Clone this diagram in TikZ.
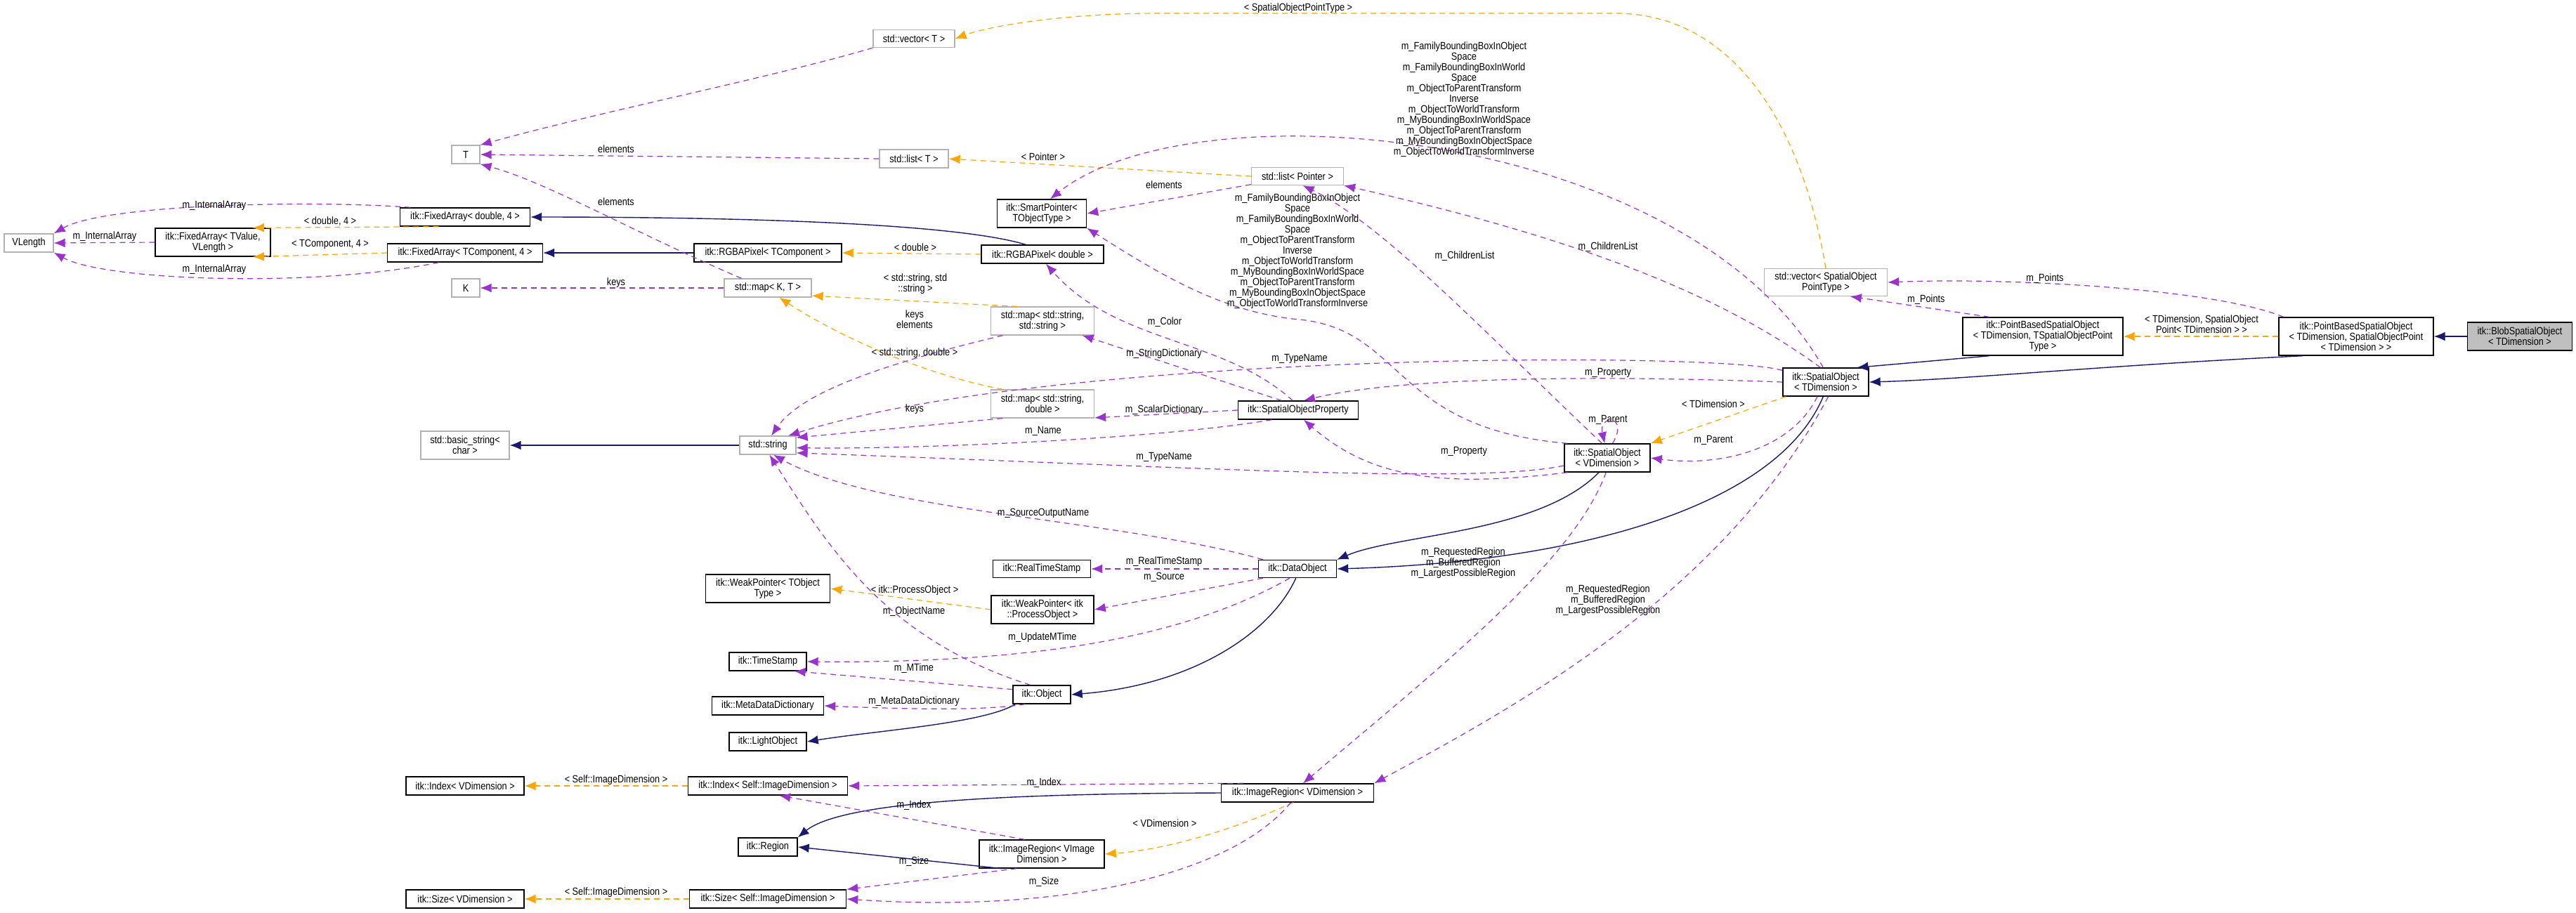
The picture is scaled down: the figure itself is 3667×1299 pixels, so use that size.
\documentclass[tikz,border=0pt]{standalone}
\usepackage{fontspec}
\setmainfont{Liberation Sans}[FakeStretch=0.86]
\usetikzlibrary{arrows.meta}
\definecolor{inhc}{HTML}{191970}
\definecolor{usec}{HTML}{9A32CD}
\definecolor{tplc}{HTML}{FFA500}
\begin{document}
\begin{tikzpicture}[x=0.25pt,y=-0.25pt,
 every node/.style={font=\fontsize{3.7}{3.75}\selectfont,align=center,inner sep=0.6pt},
 box/.style={draw=black,line width=0.35pt},
 gbox/.style={draw=black!30,line width=0.3pt},
 lbl/.style={inner sep=0pt},
 inh/.style={draw=inhc,line width=0.35pt,-{Latex[length=4pt,width=3.2pt]}},
 use/.style={draw=usec,line width=0.3pt,dash pattern=on 2pt off 1.5pt,-{Latex[length=4pt,width=3.2pt]}},
 tpl/.style={draw=tplc,line width=0.3pt,dash pattern=on 2pt off 1.5pt,-{Latex[length=4pt,width=3.2pt]}},
 w/.style={minimum width=#1*0.25pt},
 h/.style={minimum height=#1*0.25pt}]
\useasboundingbox (0,0) rectangle (3667,1299);
% nodes
\node[box,fill=black!25,w=149,h=40] (blob) at (3587,479) {itk::BlobSpatialObject\\ < TDimension >};
\node[box,w=220,h=54] (pbsop) at (3354,479) {itk::PointBasedSpatialObject\\ < TDimension, SpatialObjectPoint\\ < TDimension > >};
\node[box,w=228,h=54] (pbt) at (2908,479) {itk::PointBasedSpatialObject\\ < TDimension, TSpatialObjectPoint\\ Type >};
\node[gbox,w=175,h=39] (vecsopt) at (2599,402) {std::vector< SpatialObject\\ PointType >};
\node[box,w=122,h=40] (sot) at (2599,544) {itk::SpatialObject\\ < TDimension >};
\node[box,w=122,h=40] (sov) at (2288,652) {itk::SpatialObject\\ < VDimension >};
\node[gbox,w=116,h=25] (vect) at (1301,55) {std::vector< T >};
\node[gbox,w=40,h=26] (T) at (663,220) {T};
\node[gbox,w=98,h=26] (listT) at (1301,226) {std::list< T >};
\node[gbox,w=131,h=25] (listP) at (1847,251) {std::list< Pointer >};
\node[box,w=127,h=40] (smart) at (1483,304) {itk::SmartPointer<\\ TObjectType >};
\node[box,w=185,h=26] (fad) at (662,309) {itk::FixedArray< double, 4 >};
\node[gbox,w=70,h=26] (vlen) at (41,346) {VLength};
\node[box,w=164,h=40] (fatv) at (303,345) {itk::FixedArray< TValue,\\ VLength >};
\node[box,w=221,h=26] (fatc) at (662,360) {itk::FixedArray< TComponent, 4 >};
\node[box,w=210,h=26] (rgbt) at (1093,360) {itk::RGBAPixel< TComponent >};
\node[box,w=174,h=26] (rgbd) at (1484,362) {itk::RGBAPixel< double >};
\node[gbox,w=40,h=26] (K) at (663,410) {K};
\node[gbox,w=124,h=26] (mapkt) at (1093,410) {std::map< K, T >};
\node[gbox,w=147,h=40] (mapss) at (1484,457) {std::map< std::string,\\ std::string >};
\node[gbox,w=147,h=40] (mapsd) at (1484,575) {std::map< std::string,\\ double >};
\node[box,w=171,h=26] (sop) at (1848,584) {itk::SpatialObjectProperty};
\node[gbox,w=126,h=40] (bstr) at (662,634) {std::basic\_string<\\ char >};
\node[gbox,w=80,h=26] (str) at (1093,634) {std::string};
\node[box,w=177,h=40] (wpt) at (1093,838) {itk::WeakPointer< TObject\\ Type >};
\node[box,w=146,h=40] (wpp) at (1484,868) {itk::WeakPointer< itk\\ ::ProcessObject >};
\node[box,w=139,h=25] (rts) at (1483,810) {itk::RealTimeStamp};
\node[box,w=111,h=25] (dobj) at (1847,810) {itk::DataObject};
\node[box,w=110,h=26] (ts) at (1093,942) {itk::TimeStamp};
\node[box,w=82,h=26] (obj) at (1483,989) {itk::Object};
\node[box,w=159,h=26] (mdd) at (1093,1005) {itk::MetaDataDictionary};
\node[box,w=110,h=26] (lobj) at (1093,1056) {itk::LightObject};
\node[box,w=168,h=26] (idxv) at (662,1119) {itk::Index< VDimension >};
\node[box,w=227,h=26] (idxs) at (1093,1119) {itk::Index< Self::ImageDimension >};
\node[box,w=217,h=26] (irv) at (1847,1129) {itk::ImageRegion< VDimension >};
\node[box,w=84,h=26] (region) at (1093,1206) {itk::Region};
\node[box,w=178,h=40] (irvi) at (1483,1216) {itk::ImageRegion< VImage\\ Dimension >};
\node[box,w=168,h=26] (sizev) at (662,1280) {itk::Size< VDimension >};
\node[box,w=223,h=26] (sizes) at (1093,1280) {itk::Size< Self::ImageDimension >};
% inheritance
\draw[inh] (blob.west) -- (pbsop.east);
\draw[inh] (pbsop.200) .. controls (3000,520) and (2800,540) .. (sot.east);
\draw[inh] (pbt.200) -- (sot.25);
\draw[inh] (sot.260) .. controls (2530,720) and (2250,800) .. (dobj.east);
\draw[inh] (sov.240) .. controls (2190,760) and (1990,760) .. (dobj.north east);
\draw[inh] (dobj.260) .. controls (1810,900) and (1700,975) .. (obj.east);
\draw[inh] (obj.200) .. controls (1400,1030) and (1250,1040) .. (lobj.east);
\draw[inh] (rgbd.150) .. controls (1350,315) and (1000,309) .. (fad.east);
\draw[inh] (rgbt.west) -- (fatc.east);
\draw[inh] (str.west) -- (bstr.east);
\draw[inh] (irv.west) .. controls (1450,1130) and (1200,1140) .. (region.north east);
\draw[inh] (irvi.200) -- (region.east);
% templates
\draw[tpl] (pbsop.west) -- (pbt.east);
\draw[tpl] (vecsopt.north) .. controls (2560,150) and (2450,19) .. (2300,19) -- (1650,19) .. controls (1500,19) and (1400,40) .. (vect.east);
\draw[tpl] (listP.west) -- (listT.east);
\draw[tpl] (fad.200) -- (fatv.20);
\draw[tpl] (fatc.west) -- (fatv.-20);
\draw[tpl] (rgbd.west) -- (rgbt.east);
\draw[tpl] (mapss.150) -- (mapkt.-10);
\draw[tpl] (mapsd.160) .. controls (1300,530) and (1180,470) .. (mapkt.-40);
\draw[tpl] (sot.200) -- (sov.north east);
\draw[tpl] (wpp.west) -- (wpt.east);
\draw[tpl] (irv.245) .. controls (1760,1180) and (1660,1210) .. (irvi.east);
\draw[tpl] (idxs.west) -- (idxv.east);
\draw[tpl] (sizes.west) -- (sizev.east);
% usage
\draw[use] (pbsop.165) .. controls (3150,410) and (2850,395) .. (vecsopt.east);
\draw[use] (pbt.160) -- (vecsopt.-30);
\draw[use] (sot.100) .. controls (2400,180) and (1700,120) .. (smart.60);
\draw[use] (sov.160) .. controls (1980,610) and (2000,470) .. (1850,455) .. controls (1740,445) and (1650,390) .. (smart.south east);
\draw[use] (sot.110) .. controls (2450,420) and (2250,340) .. (listP.south east);
\draw[use] (sov.110) .. controls (2120,480) and (1970,320) .. (listP.-60);
\draw[use] (listP.190) -- (smart.east);
\draw[use] (vect.south west) .. controls (1100,110) and (850,160) .. (T.north east);
\draw[use] (listT.west) -- (T.east);
\draw[use] (mapkt.160) .. controls (900,330) and (780,260) .. (T.south east);
\draw[use] (mapkt.west) -- (K.east);
\draw[use] (fad.170) .. controls (450,285) and (150,290) .. (vlen.north east);
\draw[use] (fatv.west) -- (vlen.east);
\draw[use] (fatc.200) .. controls (450,410) and (150,400) .. (vlen.south east);
\draw[use] (sop.120) .. controls (1740,480) and (1590,490) .. (rgbd.290);
\draw[use] (sop.150) -- (mapss.-20);
\draw[use] (sop.west) -- (mapsd.-15);
\draw[use] (sop.200) .. controls (1650,625) and (1300,640) .. (str.-5);
\draw[use] (mapss.200) .. controls (1250,520) and (1140,560) .. (str.70);
\draw[use] (mapsd.-160) -- (str.15);
\draw[use] (sot.165) .. controls (2450,500) and (1500,500) .. (str.25);
\draw[use] (sov.190) .. controls (2100,690) and (1700,665) .. (str.-15);
\draw[use] (sot.180) .. controls (2300,535) and (2000,535) .. (sop.60);
\draw[use] (sov.200) .. controls (2050,695) and (1950,680) .. (sop.-60);
\draw[use] (sov.70) .. controls (2320,590) and (2275,590) .. (sov.100);
\draw[use] (sot.240) .. controls (2550,640) and (2450,665) .. (sov.east);
\draw[use] (dobj.165) .. controls (1600,740) and (1250,730) .. (str.-60);
\draw[use] (obj.140) .. controls (1260,910) and (1180,780) .. (str.-80);
\draw[use] (dobj.west) -- (rts.east);
\draw[use] (dobj.195) -- (wpp.east);
\draw[use] (dobj.230) .. controls (1700,900) and (1500,945) .. (ts.east);
\draw[use] (obj.170) -- (ts.-20);
\draw[use] (obj.210) .. controls (1400,1012) and (1300,1010) .. (mdd.east);
\draw[use] (sov.265) .. controls (2240,800) and (2050,950) .. (irv.60);
\draw[use] (sot.280) .. controls (2450,850) and (2150,1010) .. (irv.north east);
\draw[use] (irv.170) -- (idxs.east);
\draw[use] (irvi.140) -- (idxs.-40);
\draw[use] (irvi.210) -- (sizes.north east);
\draw[use] (irv.235) .. controls (1750,1250) and (1500,1300) .. (sizes.east);
% labels
\node[lbl] (l1) at (1848,12) {< SpatialObjectPointType >};
\node[lbl] (l2) at (2911,397) {m\_Points};
\node[lbl] (l3) at (2742,427) {m\_Points};
\node[lbl] (l4) at (3134,462) {< TDimension, SpatialObject\\ Point< TDimension > >};
\node[lbl] (l5) at (1485,223) {< Pointer >};
\node[lbl] (l6) at (1657,263) {elements};
\node[lbl] (l7) at (2084,142) {m\_FamilyBoundingBoxInObject\\ Space\\ m\_FamilyBoundingBoxInWorld\\ Space\\ m\_ObjectToParentTransform\\ Inverse\\ m\_ObjectToWorldTransform\\ m\_MyBoundingBoxInWorldSpace\\ m\_ObjectToParentTransform\\ m\_MyBoundingBoxInObjectSpace\\ m\_ObjectToWorldTransformInverse};
\node[lbl] (l8) at (1847,358) {m\_FamilyBoundingBoxInObject\\ Space\\ m\_FamilyBoundingBoxInWorld\\ Space\\ m\_ObjectToParentTransform\\ Inverse\\ m\_ObjectToWorldTransform\\ m\_MyBoundingBoxInWorldSpace\\ m\_ObjectToParentTransform\\ m\_MyBoundingBoxInObjectSpace\\ m\_ObjectToWorldTransformInverse};
\node[lbl] (l9) at (2085,365) {m\_ChildrenList};
\node[lbl] (l10) at (2289,352) {m\_ChildrenList};
\node[lbl] (l11) at (1658,459) {m\_Color};
\node[lbl] (l12) at (1657,504) {m\_StringDictionary};
\node[lbl] (l13) at (1850,511) {m\_TypeName};
\node[lbl] (l14) at (2289,531) {m\_Property};
\node[lbl] (l15) at (1657,584) {m\_ScalarDictionary};
\node[lbl] (l16) at (1485,614) {m\_Name};
\node[lbl] (l17) at (1657,651) {m\_TypeName};
\node[lbl] (l18) at (2084,643) {m\_Property};
\node[lbl] (l19) at (2439,575) {< TDimension >};
\node[lbl] (l20) at (2289,598) {m\_Parent};
\node[lbl] (l21) at (2439,627) {m\_Parent};
\node[lbl] (l22) at (1485,731) {m\_SourceOutputName};
\node[lbl] (l23) at (1657,800) {m\_RealTimeStamp};
\node[lbl] (l24) at (1657,822) {m\_Source};
\node[lbl] (l25) at (2083,802) {m\_RequestedRegion\\ m\_BufferedRegion\\ m\_LargestPossibleRegion};
\node[lbl] (l26) at (2289,855) {m\_RequestedRegion\\ m\_BufferedRegion\\ m\_LargestPossibleRegion};
\node[lbl] (l27) at (877,212) {elements};
\node[lbl] (l28) at (877,287) {elements};
\node[lbl] (l29) at (305,293) {m\_InternalArray};
\node[lbl] (l30) at (470,315) {< double, 4 >};
\node[lbl] (l31) at (149,337) {m\_InternalArray};
\node[lbl] (l32) at (470,348) {< TComponent, 4 >};
\node[lbl] (l33) at (305,384) {m\_InternalArray};
\node[lbl] (l34) at (1303,352) {< double >};
\node[lbl] (l35) at (877,403) {keys};
\node[lbl] (l36) at (1303,404) {< std::string, std\\ ::string >};
\node[lbl] (l37) at (1302,455) {keys\\ elements};
\node[lbl] (l38) at (1302,503) {< std::string, double >};
\node[lbl] (l39) at (1302,583) {keys};
\node[lbl] (l40) at (1302,841) {< itk::ProcessObject >};
\node[lbl] (l41) at (1301,871) {m\_ObjectName};
\node[lbl] (l42) at (1484,908) {m\_UpdateMTime};
\node[lbl] (l43) at (1301,952) {m\_MTime};
\node[lbl] (l44) at (1301,999) {m\_MetaDataDictionary};
\node[lbl] (l45) at (877,1111) {< Self::ImageDimension >};
\node[lbl] (l46) at (1486,1115) {m\_Index};
\node[lbl] (l47) at (1301,1147) {m\_Index};
\node[lbl] (l48) at (1658,1172) {< VDimension >};
\node[lbl] (l49) at (1301,1227) {m\_Size};
\node[lbl] (l50) at (1486,1256) {m\_Size};
\node[lbl] (l51) at (877,1271) {< Self::ImageDimension >};
\end{tikzpicture}
\end{document}
